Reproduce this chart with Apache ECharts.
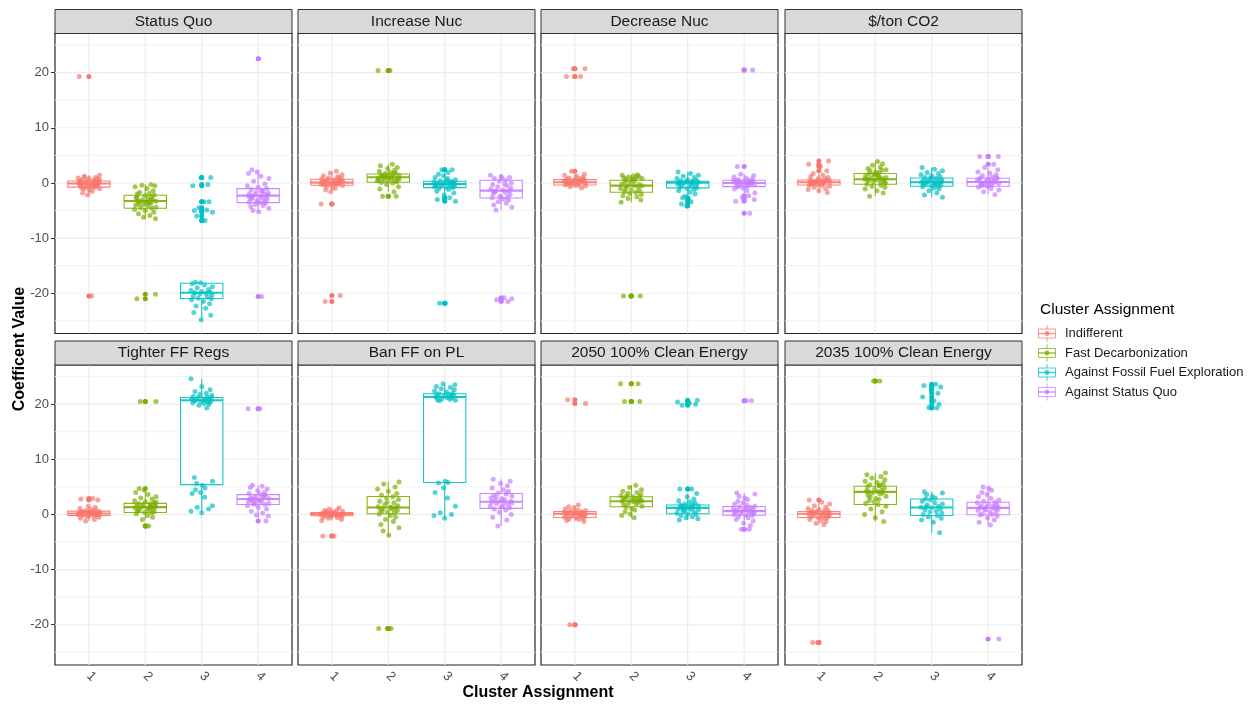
<!DOCTYPE html>
<html>
<head>
<meta charset="utf-8">
<script src="https://cdn.jsdelivr.net/npm/echarts@6/dist/echarts.min.js"></script>
<style>
  html, body { margin: 0; padding: 0; background: #ffffff; }
  #chart { width: 1251px; height: 705px; }
</style>
</head>
<body>
<div id="chart"></div>
<script>
// ---- data -------------------------------------------------------------
const facets = ['Status Quo', 'Increase Nuc', 'Decrease Nuc', '$/ton CO2',
                'Tighter FF Regs', 'Ban FF on PL', '2050 100% Clean Energy', '2035 100% Clean Energy'];
const clusters = ['Indifferent', 'Fast Decarbonization', 'Against Fossil Fuel Exploration', 'Against Status Quo'];
const clusterTicks = [1, 2, 3, 4];
const yTicks = [-20, -10, 0, 10, 20];
const yMinorTicks = [-25, -15, -5, 5, 15, 25];

// respondent coefficients per facet, one list per cluster
const statusQuo = [
  [19.3, -20.5, 1.4, 1.2, 1.0, 0.9, 0.8, 0.7, 0.6, 0.5, 0.4, 0.35, 0.3, 0.2, 0.1, 0.05, 0.0, -0.05, -0.1, -0.1, -0.15, -0.2, -0.3, -0.35, -0.4, -0.5, -0.6, -0.7, -0.75, -0.8, -0.9, -1.0, -1.1, -1.3, -1.5, -1.8, -2.2, 0.25, -0.25, 0.6, 1.1, -0.45],
  [-20.2, -21.0, -0.3, -0.4, -0.5, -0.7, -1.0, -1.4, -1.7, -1.9, -2.0, -2.2, -2.3, -2.5, -2.7, -2.8, -3.0, -3.1, -3.2, -3.3, -3.3, -3.4, -3.5, -3.6, -3.8, -3.9, -4.0, -4.2, -4.4, -4.5, -4.6, -4.8, -5.0, -5.3, -5.6, -5.9, -6.2, -6.5, -2.6, -3.7],
  [1.0, 1.0, -0.3, -0.5, -3.4, -3.4, -4.5, -4.9, -5.0, -5.3, -6.0, -6.8, -6.8, -18.0, -18.1, -18.3, -18.5, -18.8, -19.0, -19.3, -19.5, -19.7, -19.8, -19.9, -20.0, -20.1, -20.3, -20.5, -20.7, -20.9, -21.0, -21.2, -21.5, -21.9, -22.3, -22.7, -23.5, -24.0, -24.8],
  [22.5, -20.6, 2.4, 2.0, 1.7, 1.2, 0.8, 0.3, -0.2, -0.5, -0.8, -1.0, -1.2, -1.4, -1.6, -1.8, -1.9, -2.0, -2.1, -2.2, -2.3, -2.4, -2.5, -2.6, -2.7, -2.8, -3.0, -3.1, -3.3, -3.5, -3.6, -3.7, -3.9, -4.1, -4.3, -4.6, -5.0, -5.2, -1.5, -2.9, -3.4]
];
const increaseNuc = [
  [-3.8, -3.8, -20.4, -21.5, 2.1, 1.8, 1.5, 1.3, 1.1, 0.9, 0.8, 0.7, 0.6, 0.5, 0.4, 0.3, 0.25, 0.2, 0.1, 0.05, 0.0, -0.05, -0.1, -0.2, -0.3, -0.4, -0.45, -0.6, -0.8, -1.0, -1.3, -1.6, 0.15, -0.15, 0.35, 0.55, 1.0, -0.25],
  [20.4, 20.4, -2.4, -2.4, 3.4, 3.1, 2.8, 2.6, 2.3, 2.1, 1.9, 1.8, 1.7, 1.6, 1.5, 1.4, 1.3, 1.2, 1.1, 1.05, 1.0, 0.9, 0.8, 0.7, 0.6, 0.5, 0.4, 0.3, 0.2, 0.1, 0.0, -0.3, -0.7, -1.1, -1.6, 1.15, 0.85, 0.45],
  [2.4, 2.4, -2.7, -3.0, -3.3, -21.8, -21.8, 1.9, 1.6, 1.3, 1.0, 0.8, 0.6, 0.4, 0.3, 0.2, 0.1, 0.0, -0.1, -0.15, -0.2, -0.25, -0.3, -0.4, -0.5, -0.6, -0.7, -0.8, -0.85, -1.0, -1.2, -1.5, -1.8, -2.2, 0.05, -0.35, 0.5, -0.05],
  [-20.8, -21.0, -21.2, -21.5, 1.4, 1.2, 1.0, 0.8, 0.5, 0.3, 0.0, -0.3, -0.5, -0.7, -0.9, -1.1, -1.3, -1.4, -1.5, -1.7, -1.9, -2.1, -2.3, -2.5, -2.7, -2.9, -3.1, -3.4, -3.7, -4.0, -4.4, -4.9, 0.9, -0.2, -1.6, -2.6]
];
const decreaseNuc = [
  [20.7, 20.7, 19.3, 19.3, 2.1, 1.6, 1.4, 1.2, 1.0, 0.9, 0.8, 0.7, 0.6, 0.5, 0.45, 0.4, 0.3, 0.25, 0.2, 0.15, 0.1, 0.05, 0.0, -0.05, -0.1, -0.2, -0.3, -0.35, -0.45, -0.55, -0.7, -0.9, 0.35, 0.55, 0.75, -0.15],
  [-20.5, -20.5, -20.5, 1.5, 1.4, 1.3, 1.2, 1.1, 1.0, 0.9, 0.8, 0.6, 0.5, 0.4, 0.2, 0.0, -0.2, -0.4, -0.5, -0.6, -0.8, -1.0, -1.2, -1.4, -1.6, -1.7, -1.9, -2.1, -2.3, -2.5, -2.8, -3.1, -3.5, 0.7, -0.3, -1.1],
  [-2.7, -3.0, -3.4, -3.8, -4.2, 2.0, 1.7, 1.4, 1.2, 1.0, 0.8, 0.6, 0.5, 0.4, 0.3, 0.25, 0.2, 0.1, 0.05, 0.0, -0.1, -0.2, -0.3, -0.4, -0.5, -0.6, -0.8, -0.9, -1.0, -1.2, -1.4, -1.7, -2.0, -2.4, 0.15, -0.05],
  [20.5, 20.5, 3.0, -2.3, -2.6, -3.0, -3.3, -5.5, 1.6, 1.3, 1.1, 0.9, 0.7, 0.6, 0.5, 0.4, 0.3, 0.2, 0.15, 0.1, 0.05, 0.0, -0.05, -0.1, -0.2, -0.3, -0.4, -0.5, -0.6, -0.7, -0.9, -1.1, -1.4, -1.8, 0.25, -0.15, 0.45]
];
const carbonPrice = [
  [4.0, 3.4, 3.0, 2.2, 1.7, 1.4, 1.2, 1.0, 0.8, 0.7, 0.6, 0.5, 0.4, 0.3, 0.2, 0.15, 0.1, 0.05, 0.0, -0.1, -0.2, -0.3, -0.4, -0.5, -0.6, -0.8, -1.0, -1.2, -1.4, -1.75, 0.35, -0.05, 0.25, 0.55, -0.15],
  [3.9, 3.5, 3.2, 2.9, 2.6, 2.4, 2.2, 2.0, 1.8, 1.7, 1.5, 1.3, 1.2, 1.0, 0.9, 0.8, 0.7, 0.6, 0.5, 0.4, 0.3, 0.2, 0.0, -0.2, -0.4, -0.6, -0.8, -1.1, -1.4, -1.8, -2.4, 1.1, 0.65, 0.1, 1.6, 2.3],
  [2.8, 2.5, 2.2, 1.9, 1.7, 1.5, 1.3, 1.1, 1.0, 0.9, 0.8, 0.6, 0.5, 0.4, 0.3, 0.2, 0.1, 0.05, 0.0, -0.1, -0.2, -0.3, -0.4, -0.5, -0.6, -0.7, -0.9, -1.1, -1.4, -1.8, -2.2, -2.6, 0.15, 0.7, -0.05],
  [4.8, 4.8, 3.4, 2.8, 2.4, 2.0, 1.8, 1.5, 1.3, 1.1, 0.9, 0.8, 0.7, 0.5, 0.4, 0.3, 0.2, 0.15, 0.1, 0.0, -0.1, -0.2, -0.3, -0.4, -0.5, -0.6, -0.8, -1.0, -1.3, -1.6, -2.1, 0.6, 0.25, 1.0, -0.15]
];
const tighterFFRegs = [
  [2.9, 2.8, 2.6, 1.5, 1.3, 1.1, 0.9, 0.8, 0.7, 0.6, 0.55, 0.5, 0.45, 0.4, 0.35, 0.3, 0.25, 0.2, 0.15, 0.1, 0.05, 0.0, -0.05, -0.1, -0.15, -0.2, -0.3, -0.4, -0.5, -0.7, -0.9, -1.2, 0.32, 0.12, 0.42, -0.02],
  [20.5, 20.5, -2.1, -2.1, 4.7, 4.4, 4.0, 3.6, 3.2, 3.0, 2.8, 2.5, 2.3, 2.1, 2.0, 1.9, 1.8, 1.7, 1.6, 1.5, 1.4, 1.3, 1.2, 1.1, 1.0, 0.9, 0.8, 0.6, 0.5, 0.4, 0.3, 0.1, -0.2, -0.5, -0.9, 1.35, 0.7, 2.2],
  [24.6, 23.2, 22.6, 22.3, 22.0, 21.8, 21.6, 21.4, 21.3, 21.2, 21.1, 21.0, 20.9, 20.8, 20.7, 20.7, 20.6, 20.5, 20.4, 20.3, 20.2, 20.1, 20.0, 19.8, 19.3, 6.7, 6.0, 5.6, 5.3, 4.8, 4.5, 4.0, 3.8, 3.1, 1.6, 1.3, 1.0, 0.6, 0.3],
  [19.15, 19.15, -1.2, 5.3, 5.1, 4.9, 4.6, 4.3, 4.0, 3.8, 3.6, 3.5, 3.3, 3.2, 3.0, 2.9, 2.8, 2.7, 2.6, 2.5, 2.4, 2.3, 2.2, 2.0, 1.9, 1.8, 1.6, 1.3, 1.0, 0.6, 0.2, -0.1, -0.3, 2.75, 3.4, 1.95]
];
const banFFonPL = [
  [-3.9, -3.9, 1.2, 1.0, 0.8, 0.7, 0.6, 0.5, 0.4, 0.35, 0.3, 0.25, 0.2, 0.15, 0.1, 0.05, 0.0, -0.05, -0.1, -0.15, -0.2, -0.25, -0.3, -0.4, -0.5, -0.6, -0.7, -0.9, -1.1, 0.12, -0.02, 0.45],
  [-20.7, -20.7, -20.7, 5.9, 5.5, 5.0, 4.6, 4.2, 3.8, 3.5, 3.2, 3.0, 2.7, 2.4, 2.1, 1.8, 1.6, 1.4, 1.3, 1.2, 1.1, 1.0, 0.9, 0.7, 0.5, 0.3, 0.1, -0.2, -0.5, -0.9, -1.3, -1.8, -2.4, -3.0, -3.75, 1.25, 0.6, 2.2],
  [23.7, 23.5, 23.2, 23.0, 22.8, 22.6, 22.4, 22.2, 22.0, 21.9, 21.8, 21.7, 21.6, 21.5, 21.4, 21.3, 21.2, 21.1, 21.0, 20.9, 20.8, 20.7, 20.6, 6.0, 5.8, 5.7, 4.8, 4.0, 3.0, 1.5, 0.3, 0.0, -0.2, -0.7],
  [6.4, 6.0, 5.6, 5.2, 4.8, 4.5, 4.2, 3.9, 3.7, 3.5, 3.3, 3.1, 2.9, 2.7, 2.5, 2.4, 2.3, 2.2, 2.1, 2.0, 1.8, 1.6, 1.4, 1.2, 1.0, 0.8, 0.4, 0.0, -0.5, -1.0, -2.1, 2.35, 3.0, 1.5]
];
const clean2050 = [
  [20.8, 20.1, -20.0, -20.0, 1.7, 1.4, 1.2, 1.0, 0.8, 0.7, 0.6, 0.5, 0.4, 0.3, 0.2, 0.15, 0.1, 0.05, 0.0, -0.1, -0.2, -0.3, -0.4, -0.5, -0.6, -0.7, -0.8, -0.9, -1.1, -1.3, 0.25, -0.05, 0.35, 0.12],
  [23.7, 23.7, 20.5, 20.5, 20.5, 5.3, 4.9, 4.5, 4.2, 4.0, 3.8, 3.6, 3.4, 3.2, 3.1, 3.0, 2.9, 2.8, 2.7, 2.6, 2.5, 2.4, 2.3, 2.2, 2.0, 1.9, 1.7, 1.5, 1.3, 1.1, 0.8, 0.5, 0.1, -0.2, -0.6, 2.45, 3.35],
  [20.7, 20.4, 20.2, 20.0, 19.8, 4.6, 4.6, 3.8, 3.2, 2.8, 2.5, 2.3, 2.1, 1.9, 1.8, 1.7, 1.6, 1.5, 1.4, 1.3, 1.2, 1.1, 1.0, 0.9, 0.8, 0.6, 0.4, 0.2, 0.1, 0.0, -0.2, -0.4, -0.6, -0.8, -1.0, 1.25, 0.7],
  [20.6, 20.6, -2.7, -2.7, 3.9, 3.7, 3.3, 3.0, 2.7, 2.4, 2.1, 1.9, 1.7, 1.5, 1.4, 1.3, 1.1, 1.0, 0.9, 0.8, 0.7, 0.6, 0.5, 0.4, 0.3, 0.2, 0.1, 0.0, -0.1, -0.2, -0.4, -0.6, -0.9, -1.2, -1.6, -2.0, 0.55, 1.2]
];
const clean2035 = [
  [-23.2, -23.2, 2.6, 2.2, 1.9, 1.6, 1.3, 1.1, 0.9, 0.8, 0.7, 0.6, 0.5, 0.4, 0.3, 0.2, 0.15, 0.1, 0.05, 0.0, -0.1, -0.2, -0.3, -0.4, -0.5, -0.6, -0.7, -0.9, -1.1, -1.3, -1.6, -1.8, 0.25, -0.05, 0.35],
  [24.2, 24.2, 7.5, 7.2, 6.9, 6.6, 6.3, 6.0, 5.8, 5.6, 5.4, 5.2, 5.0, 4.8, 4.6, 4.4, 4.2, 4.1, 4.0, 3.9, 3.7, 3.5, 3.3, 3.1, 2.9, 2.7, 2.5, 2.3, 2.0, 1.8, 1.5, 1.0, 0.5, 0.0, -0.6, -1.3, 4.15, 5.3],
  [23.6, 23.4, 23.1, 22.6, 22.0, 21.3, 20.6, 20.0, 19.4, 19.3, 4.1, 3.9, 3.6, 3.3, 3.0, 2.8, 2.6, 2.4, 2.1, 1.9, 1.7, 1.5, 1.3, 1.2, 1.0, 0.8, 0.6, 0.4, 0.2, 0.0, -0.2, -0.4, -0.7, -1.0, -1.4, -3.3, 1.35],
  [-22.6, 5.0, 4.8, 4.4, 4.0, 3.6, 3.2, 2.9, 2.6, 2.4, 2.2, 2.1, 1.9, 1.8, 1.6, 1.5, 1.4, 1.3, 1.2, 1.1, 1.0, 0.9, 0.7, 0.5, 0.3, 0.1, 0.0, -0.1, -0.3, -0.6, -1.0, -1.4, -1.9, 1.25, 0.8]
];

// boxplot summaries per cluster: [lower whisker, Q1, median, Q3, upper whisker]
const statusQuoBox     = [[-2.2, -0.75, -0.1, 0.35, 1.4], [-6.5, -4.59, -3.26, -2.23, -0.3], [-24.8, -20.95, -19.9, -18.2, -18.0], [-5.2, -3.56, -2.3, -1.03, 2.4]];
const increaseNucBox   = [[-1.6, -0.42, 0.06, 0.66, 2.1], [-1.6, 0.12, 1.03, 1.63, 3.4], [-2.2, -0.85, -0.18, 0.3, 1.9], [-4.9, -2.72, -1.39, 0.48, 1.4]];
const decreaseNucBox   = [[-0.9, -0.36, 0.12, 0.6, 1.6], [-3.5, -1.69, -0.48, 0.48, 1.5], [-2.4, -0.9, 0.06, 0.3, 2.0], [-1.8, -0.66, 0.0, 0.48, 1.6]];
const carbonPriceBox   = [[-1.75, -0.36, 0.12, 0.54, 1.7], [-2.4, -0.24, 0.66, 1.7, 3.9], [-2.6, -0.6, 0.12, 0.9, 2.8], [-2.1, -0.6, 0.18, 0.85, 2.8]];
const tighterFFRegsBox = [[-1.2, -0.18, 0.18, 0.6, 1.5], [-0.9, 0.36, 1.33, 2.0, 4.4], [0.3, 5.4, 20.7, 21.2, 24.6], [-0.3, 1.8, 2.8, 3.6, 5.3]];
const banFFonPLBox     = [[-1.1, -0.24, 0.06, 0.36, 1.2], [-3.75, 0.12, 1.27, 3.26, 5.9], [-0.7, 5.8, 21.3, 21.9, 23.7], [-2.1, 1.1, 2.3, 3.8, 6.4]];
const clean2050Box     = [[-1.3, -0.54, 0.12, 0.54, 1.7], [-0.6, 1.4, 2.4, 3.2, 5.3], [-1.0, 0.12, 1.2, 1.7, 3.8], [-2.0, -0.12, 0.6, 1.45, 3.9]];
const clean2035Box     = [[-1.8, -0.54, 0.12, 0.54, 2.2], [-1.3, 1.8, 4.1, 5.1, 7.5], [-3.3, -0.18, 1.27, 2.8, 4.1], [-1.9, -0.06, 1.2, 2.2, 5.0]];

// ---- layout & style -----------------------------------------------------
const COLORS = ['#F8766D', '#7CAE00', '#00BFC4', '#C77CFF'];
const FONT = 'Liberation Sans, Arial, sans-serif';
// fixed horizontal spread for the jittered points (axis units)
const JITTER = [-0.17, 0.05, 0.19, -0.08, 0.12, -0.19, 0.0, 0.15, -0.12, 0.08, -0.03, 0.18, -0.15, 0.10,
                -0.06, 0.17, -0.18, 0.03, 0.14, -0.10, 0.07, -0.14, 0.16, -0.01, 0.11, -0.16, 0.04, 0.13,
                -0.05, 0.09, -0.13, 0.19, -0.09, 0.01, 0.06, -0.11, -0.02];
const PANEL_LEFT = [55, 298, 541, 785];
const PANEL_TOP = [33.5, 365];
const PANEL_W = 237, PANEL_H = 300, STRIP_H = 24;
const Y_MIN = -27.3, Y_MAX = 27.1;
const X_MIN = 0.4, X_MAX = 4.6;

const facetPoints = [statusQuo, increaseNuc, decreaseNuc, carbonPrice, tighterFFRegs, banFFonPL, clean2050, clean2035];
const facetBoxes = [statusQuoBox, increaseNucBox, decreaseNucBox, carbonPriceBox, tighterFFRegsBox, banFFonPLBox, clean2050Box, clean2035Box];

const grids = [], xAxes = [], yAxes = [], series = [], graphics = [];

facets.forEach((name, i) => {
  const row = Math.floor(i / 4), col = i % 4;
  const left = PANEL_LEFT[col], top = PANEL_TOP[row];
  grids.push({
    left, top, width: PANEL_W, height: PANEL_H,
    show: true, borderColor: '#262626', borderWidth: 1.2, backgroundColor: '#ffffff',
    containLabel: false, outerBoundsMode: 'none'
  });
  const bottomRow = row === 1, firstCol = col === 0;
  xAxes.push({
    type: 'value', gridIndex: i, min: X_MIN, max: X_MAX,
    axisLine: { show: false },
    splitLine: { show: false },
    axisTick: { show: bottomRow, customValues: clusterTicks, length: 4, lineStyle: { color: '#333333', width: 1 } },
    axisLabel: { show: bottomRow, customValues: clusterTicks, rotate: -45, margin: 9,
                 color: '#4D4D4D', fontSize: 13, fontFamily: FONT }
  });
  yAxes.push({
    type: 'value', gridIndex: i, min: Y_MIN, max: Y_MAX,
    axisLine: { show: false },
    splitLine: { show: false },
    axisTick: { show: firstCol, customValues: yTicks, length: 4, lineStyle: { color: '#333333', width: 1 } },
    axisLabel: { show: firstCol, customValues: yTicks, margin: 6,
                 color: '#4D4D4D', fontSize: 13, fontFamily: FONT }
  });

  // panel grid lines (kind 0 = horizontal, 1 = vertical; third value flags a major line)
  const lines = [];
  yMinorTicks.forEach(v => lines.push([0, v, 0]));
  yTicks.forEach(v => lines.push([0, v, 1]));
  clusterTicks.forEach(v => lines.push([1, v, 1]));
  series.push({
    type: 'custom', xAxisIndex: i, yAxisIndex: i, silent: true, z: 1,
    data: lines,
    renderItem(params, api) {
      const cs = params.coordSys;
      const kind = api.value(0), v = api.value(1), major = api.value(2);
      let shape;
      if (kind === 0) {
        const y = api.coord([1, v])[1];
        shape = { x1: cs.x, y1: y, x2: cs.x + cs.width, y2: y };
      } else {
        const x = api.coord([v, 0])[0];
        shape = { x1: x, y1: cs.y, x2: x, y2: cs.y + cs.height };
      }
      return { type: 'line', shape,
               style: { stroke: major ? '#EBEBEB' : '#F2F2F2', lineWidth: major ? 1.1 : 1 } };
    }
  });

  // boxes and whiskers
  const boxes = facetBoxes[i];
  series.push({
    type: 'custom', xAxisIndex: i, yAxisIndex: i, silent: true, z: 2,
    data: boxes.map((b, k) => [clusterTicks[k], b[0], b[1], b[2], b[3], b[4], k]),
    renderItem(params, api) {
      const x = api.value(0), k = api.value(6);
      const c = COLORS[k];
      const cx = api.coord([x, 0])[0];
      const hw = api.size([0.75, 0])[0] / 2;
      const yLo = api.coord([x, api.value(1)])[1];
      const yQ1 = api.coord([x, api.value(2)])[1];
      const yMed = api.coord([x, api.value(3)])[1];
      const yQ3 = api.coord([x, api.value(4)])[1];
      const yHi = api.coord([x, api.value(5)])[1];
      const st = { stroke: c, lineWidth: 1.1, opacity: 0.9 };
      return { type: 'group', children: [
        { type: 'line', shape: { x1: cx, y1: yHi, x2: cx, y2: yQ3 }, style: st },
        { type: 'line', shape: { x1: cx, y1: yQ1, x2: cx, y2: yLo }, style: st },
        { type: 'rect', shape: { x: cx - hw, y: yQ3, width: 2 * hw, height: yQ1 - yQ3 },
          style: { fill: '#ffffff', stroke: c, lineWidth: 1.1, opacity: 0.9 } },
        { type: 'line', shape: { x1: cx - hw, y1: yMed, x2: cx + hw, y2: yMed },
          style: { stroke: c, lineWidth: 2.1, opacity: 0.9 } }
      ] };
    }
  });

  // outliers beyond the whiskers, drawn on the cluster centre line
  const outliers = [];
  facetPoints[i].forEach((vals, k) => {
    const b = boxes[k];
    vals.forEach(v => {
      if (v < b[0] || v > b[4]) outliers.push({ value: [clusterTicks[k], v], itemStyle: { color: COLORS[k] } });
    });
  });
  series.push({
    type: 'scatter', xAxisIndex: i, yAxisIndex: i, silent: true, z: 3,
    symbolSize: 5, data: outliers, itemStyle: { opacity: 1 }
  });

  // jittered respondent points
  facetPoints[i].forEach((vals, k) => {
    series.push({
      type: 'scatter', name: clusters[k], xAxisIndex: i, yAxisIndex: i, silent: true, z: 4,
      symbolSize: 5,
      itemStyle: { color: COLORS[k], opacity: 0.68 },
      data: vals.map((v, j) => [clusterTicks[k] + JITTER[(j + k * 11 + i * 5) % JITTER.length], v])
    });
  });

  // facet strip
  graphics.push({
    type: 'rect', x: left, y: top - STRIP_H, silent: true, z: 10,
    shape: { x: 0, y: 0, width: PANEL_W, height: STRIP_H },
    style: { fill: '#D9D9D9', stroke: '#333333', lineWidth: 1 }
  });
  graphics.push({
    type: 'text', x: left + PANEL_W / 2, y: top - STRIP_H / 2, silent: true, z: 11,
    style: { text: name, fill: '#1A1A1A', fontSize: 15.5, fontFamily: FONT,
             align: 'center', verticalAlign: 'middle' }
  });
});

// axis titles
graphics.push({
  type: 'text', x: 538, y: 693, silent: true,
  style: { text: 'Cluster Assignment', fill: '#000000', fontSize: 16, fontWeight: 'bold', fontFamily: FONT,
           align: 'center', verticalAlign: 'middle' }
});
graphics.push({
  type: 'text', x: 20, y: 349, rotation: Math.PI / 2, silent: true,
  style: { text: 'Coefficent Value', fill: '#000000', fontSize: 16, fontWeight: 'bold', fontFamily: FONT,
           align: 'center', verticalAlign: 'middle' }
});

// legend
graphics.push({
  type: 'text', x: 1040, y: 310, silent: true,
  style: { text: 'Cluster Assignment', fill: '#000000', fontSize: 15.5, fontFamily: FONT,
           align: 'left', verticalAlign: 'middle' }
});
const LEGEND_Y = [333.5, 353, 372.5, 392];
clusters.forEach((label, k) => {
  const y = LEGEND_Y[k], cx = 1047;
  const c = COLORS[k];
  graphics.push({ type: 'line', silent: true, shape: { x1: cx, y1: y - 8.5, x2: cx, y2: y + 8.5 },
                  style: { stroke: c, lineWidth: 1, opacity: 0.75 } });
  graphics.push({ type: 'rect', silent: true, shape: { x: cx - 8.5, y: y - 4.5, width: 17, height: 9 },
                  style: { fill: '#ffffff', stroke: c, lineWidth: 1, opacity: 0.75 } });
  graphics.push({ type: 'line', silent: true, shape: { x1: cx - 8.5, y1: y, x2: cx + 8.5, y2: y },
                  style: { stroke: c, lineWidth: 1.5, opacity: 0.75 } });
  graphics.push({ type: 'circle', silent: true, shape: { cx: cx, cy: y, r: 2.4 },
                  style: { fill: c, opacity: 0.75 } });
  graphics.push({
    type: 'text', x: 1065, y: y, silent: true,
    style: { text: label, fill: '#1A1A1A', fontSize: 13, fontFamily: FONT, align: 'left', verticalAlign: 'middle' }
  });
});

const chart = echarts.init(document.getElementById('chart'), null, { renderer: 'canvas' });
chart.setOption({
  animation: false,
  backgroundColor: '#ffffff',
  grid: grids,
  xAxis: xAxes,
  yAxis: yAxes,
  series,
  graphic: { elements: graphics }
});
</script>
</body>
</html>
